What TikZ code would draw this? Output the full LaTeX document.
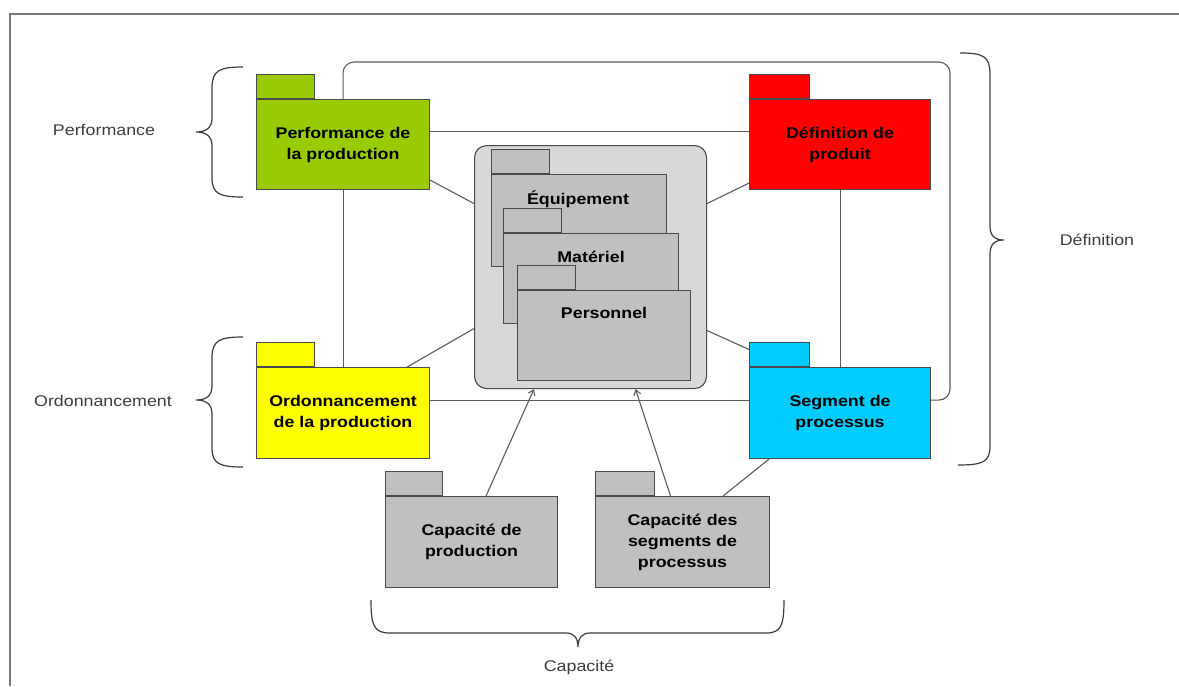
\documentclass[tikz,border=0pt]{standalone}
\usepackage{fontspec}
\setmainfont{Liberation Sans}[FakeStretch=1.15]
\usetikzlibrary{calc,arrows.meta}
\definecolor{pgreen}{HTML}{99CC00}
\definecolor{pred}{HTML}{FF0000}
\definecolor{pyellow}{HTML}{FFFF00}
\definecolor{pblue}{HTML}{00CCFF}
\definecolor{pgray}{HTML}{C0C0C0}
\definecolor{coregray}{HTML}{D8D8D8}
\definecolor{bordercol}{HTML}{4A4A4A}
\definecolor{linecol}{HTML}{5A5A5A}
\definecolor{labelcol}{HTML}{3C3C3C}
\definecolor{framecol}{HTML}{7A7A7A}
\begin{document}
\begin{tikzpicture}[x=1pt,y=-1pt,
  pkg/.style={draw=bordercol, line width=1.1pt, inner sep=0pt, align=center,
    anchor=north west, font=\bfseries\fontsize{15.5}{21}\selectfont, text=black},
  pkgtab/.style={draw=bordercol, line width=1.1pt, inner sep=0pt, anchor=south west,
    minimum height=24pt},
  conn/.style={draw=linecol, line width=1.1pt},
  arr/.style={conn, -{Straight Barb[length=5pt,width=7pt]}},
  brace/.style={draw=labelcol, line width=1.2pt},
  grouplabel/.style={font=\fontsize{15.5}{19}\selectfont, text=labelcol},
  innerlabel/.style={font=\bfseries\fontsize{15.5}{19}\selectfont, text=black}
]
\useasboundingbox (0,0) rectangle (1179,686);
% frame
\draw[draw=framecol, line width=2pt] (10,686) -- (10,14) -- (1179,14);

% central group
\node[draw=bordercol, line width=1.1pt, fill=coregray, rounded corners=12pt,
  minimum width=232pt, minimum height=243pt, anchor=north west] (core) at (474,145) {};
\node[pkg, fill=pgray, minimum width=175pt, minimum height=92pt] (equip) at (491,174) {};
\node[pkgtab, fill=pgray, minimum width=58pt] (equiptab) at (equip.north west) {};
\node[innerlabel] (equiplbl) at ($(equip.north)+(-1,25)$) {Équipement};
\node[pkg, fill=pgray, minimum width=175pt, minimum height=90pt] (mat) at (503,233) {};
\node[pkgtab, fill=pgray, minimum width=58pt] (mattab) at (mat.north west) {};
\node[innerlabel] (matlbl) at ($(mat.north)+(0,24)$) {Matériel};
\node[pkg, fill=pgray, minimum width=173pt, minimum height=90pt] (pers) at (517,290) {};
\node[pkgtab, fill=pgray, minimum width=58pt] (perstab) at (pers.north west) {};
\node[innerlabel] (perslbl) at ($(pers.north)+(0,23)$) {Personnel};

% coloured packages
\node[pkg, fill=pgreen, minimum width=173pt, minimum height=90pt] (green) at (256,99) {Performance de\\la production};
\node[pkgtab, fill=pgreen, minimum width=58pt] (greentab) at (green.north west) {};
\node[pkg, fill=pred, minimum width=181pt, minimum height=90pt] (red) at (749,99) {Définition de\\produit};
\node[pkgtab, fill=pred, minimum width=60pt] (redtab) at (red.north west) {};
\node[pkg, fill=pyellow, minimum width=173pt, minimum height=91pt] (yellow) at (256,367) {Ordonnancement\\de la production};
\node[pkgtab, fill=pyellow, minimum width=58pt] (yellowtab) at (yellow.north west) {};
\node[pkg, fill=pblue, minimum width=181pt, minimum height=91pt] (blue) at (749,367) {Segment de\\processus};
\node[pkgtab, fill=pblue, minimum width=60pt] (bluetab) at (blue.north west) {};
\node[pkg, fill=pgray, minimum width=172pt, minimum height=91pt] (cap1) at (385,496) {Capacité de\\production};
\node[pkgtab, fill=pgray, minimum width=57pt] (cap1tab) at (cap1.north west) {};
\node[pkg, fill=pgray, minimum width=174pt, minimum height=91pt] (cap2) at (595,496) {Capacité des\\segments de\\processus};
\node[pkgtab, fill=pgray, minimum width=59pt] (cap2tab) at (cap2.north west) {};

% connectors
\draw[conn, rounded corners=11pt] (green.north) |- (950,62) |- ($(blue.east)+(0,-13)$);
\draw[conn] ($(green.east)+(0,-13)$) -- ($(red.west)+(0,-13)$);
\draw[conn] (green.south) -- (yellow.north);
\draw[conn] (red.south) -- (blue.north);
\draw[conn] ($(yellow.east)+(0,-12.5)$) -- ($(blue.west)+(0,-12.5)$);
\draw[conn] ($(green.south east)+(0,-10)$) -- ($(core.west)+(0,-63.5)$);
\draw[conn] ($(red.south west)+(0,-7)$) -- ($(core.east)+(0,-63.5)$);
\draw[conn] ($(yellow.north east)+(-23,0)$) -- ($(core.west)+(0,61.5)$);
\draw[conn] ($(bluetab.west)+(0,-5)$) -- ($(core.east)+(0,63.5)$);
\draw[arr] ($(cap1.north west)+(101,0)$) -- ($(core.south west)+(60,0)$);
\draw[arr] ($(cap2.north west)+(75.5,0)$) -- ($(core.south west)+(161.5,0)$);
\draw[conn] ($(blue.south west)+(20,0)$) -- ($(cap2.north west)+(128,0)$);

% braces
\draw[brace] (243,67) .. controls (220,67) and (212,70) .. (212,88) -- (212,118)
  .. controls (212,128) and (206,132) .. (196,132)
  .. controls (206,132) and (212,136) .. (212,146) -- (212,178)
  .. controls (212,194) and (220,197) .. (243,197);
\draw[brace] (243,337) .. controls (220,337) and (212,340) .. (212,358) -- (212,386)
  .. controls (212,396) and (206,400) .. (196,400)
  .. controls (206,400) and (212,404) .. (212,414) -- (212,448)
  .. controls (212,464) and (220,467) .. (243,467);
\draw[brace] (960,53) .. controls (983,53) and (990,56) .. (990,74) -- (990,226)
  .. controls (990,236) and (995,240) .. (1004,240)
  .. controls (995,240) and (990,244) .. (990,254) -- (990,446)
  .. controls (990,462) and (983,465) .. (958,465);
\draw[brace] (371,600) .. controls (371,626) and (374,633) .. (390,633) -- (566,633)
  .. controls (574,633) and (578,638) .. (578,647)
  .. controls (578,638) and (582,633) .. (590,633) -- (766,633)
  .. controls (781,633) and (784,626) .. (784,600);

% group labels
\node[grouplabel] (lperf) at (104,130) {Performance};
\node[grouplabel] (lordo) at (103,401) {Ordonnancement};
\node[grouplabel] (ldef) at (1097,240) {Définition};
\node[grouplabel] (lcap) at (579,667) {Capacité};
\end{tikzpicture}
\end{document}
